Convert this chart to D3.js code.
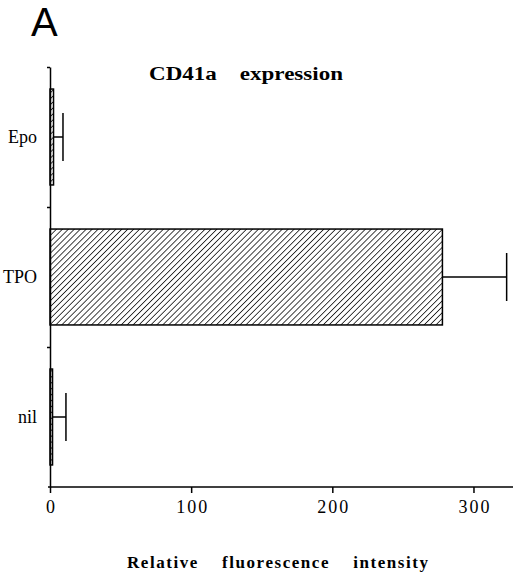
<!DOCTYPE html>
<html><head><meta charset="utf-8">
<script src="https://cdn.jsdelivr.net/npm/d3@7"></script>
<style>
html,body{margin:0;padding:0;background:#fff;}
svg{display:block;}
</style></head>
<body>
<svg id="chart" width="520" height="573"></svg>
<script>
// Data
const categories = ["Epo", "TPO", "nil"];
const values = [2.5, 278, 1.8];
const errors = [6.7, 45.5, 9.5];
const xTicks = [0, 100, 200, 300];
const panelLabel = "A";
const title = "CD41a    expression";
const xLabel = "Relative    fluorescence    intensity";

(function () {
const svg = d3.select("#chart");
const mLeft = 50, mRight = 513, mTop = 67, mBottom = 487;

const x = d3.scaleLinear().domain([0, 328]).range([mLeft, mRight]);
const y = d3.scaleBand().domain(categories).range([mTop, mBottom]).paddingInner(0.315).paddingOuter(0.1575);

// hatch pattern
const defs = svg.append("defs");
const pat = defs.append("pattern").attr("id", "hatch").attr("patternUnits", "userSpaceOnUse")
  .attr("width", 4.2).attr("height", 4.2).attr("patternTransform", "rotate(45)");
pat.append("rect").attr("width", 4.2).attr("height", 4.2).attr("fill", "#fff");
pat.append("line").attr("x1", 0).attr("y1", 0).attr("x2", 0).attr("y2", 4.2)
  .attr("stroke", "#222").attr("stroke-width", 1.7);

// panel label
svg.append("text").attr("x", 31).attr("y", 36).attr("font-family", "Liberation Sans, Arial, sans-serif")
  .attr("font-size", 40).attr("fill", "#000").text(panelLabel);

// title
svg.append("text").attr("x", 149).attr("y", 80).attr("font-family", "Liberation Serif, Times New Roman, serif")
  .attr("font-weight", "bold").attr("font-size", 18).style("white-space", "pre")
  .attr("textLength", 194).attr("lengthAdjust", "spacingAndGlyphs").text(title);

// bars
const data = categories.map((c, i) => ({c, v: values[i], e: errors[i]}));
svg.selectAll("rect.bar").data(data).enter().append("rect").attr("class", "bar")
  .attr("x", x(0)).attr("y", d => y(d.c)).attr("width", d => x(d.v) - x(0))
  .attr("height", y.bandwidth()).attr("fill", "url(#hatch)").attr("stroke", "#000").attr("stroke-width", 1.5);

// error bars
const capH = y.bandwidth() * 0.5;
const eg = svg.selectAll("g.err").data(data).enter().append("g").attr("class", "err");
eg.append("line").attr("x1", d => x(d.v)).attr("x2", d => x(d.v + d.e))
  .attr("y1", d => y(d.c) + y.bandwidth() / 2).attr("y2", d => y(d.c) + y.bandwidth() / 2)
  .attr("stroke", "#000").attr("stroke-width", 1.5);
eg.append("line").attr("x1", d => x(d.v + d.e)).attr("x2", d => x(d.v + d.e))
  .attr("y1", d => y(d.c) + y.bandwidth() / 2 - capH / 2).attr("y2", d => y(d.c) + y.bandwidth() / 2 + capH / 2)
  .attr("stroke", "#000").attr("stroke-width", 1.5);

// y axis: boundary ticks via index scale
const yIdx = d3.scaleLinear().domain([0, categories.length]).range([mTop, mBottom]);
const yAx = svg.append("g").attr("transform", `translate(${mLeft},0)`)
  .call(d3.axisLeft(yIdx).tickValues([0, 1, 2]).tickSize(3).tickSizeOuter(0).tickFormat(""));
yAx.select(".domain").attr("stroke-width", 1.5);
yAx.selectAll(".tick line").attr("stroke-width", 1.5);

// y labels
svg.selectAll("text.ylab").data(categories).enter().append("text").attr("class", "ylab")
  .attr("x", 37).attr("y", d => y(d) + y.bandwidth() / 2 + 6).attr("text-anchor", "end")
  .attr("font-family", "Liberation Serif, Times New Roman, serif").attr("font-size", 18).text(d => d);

// x axis
const xAx = svg.append("g").attr("transform", `translate(0,${mBottom})`)
  .call(d3.axisBottom(x).tickValues(xTicks).tickSize(6).tickSizeOuter(0).tickPadding(7));
xAx.select(".domain").attr("stroke-width", 1.5).attr("d", `M${mLeft - 2},0H${mRight}`);
xAx.selectAll(".tick line").attr("stroke-width", 1.5);
xAx.selectAll(".tick text").attr("font-family", "Liberation Serif, Times New Roman, serif")
  .attr("font-size", 18).attr("letter-spacing", 2).attr("fill", "#000").attr("dx", 1);

// x label
svg.append("text").attr("x", 127).attr("y", 568).attr("font-family", "Liberation Serif, Times New Roman, serif")
  .attr("font-weight", "bold").attr("font-size", 17).style("white-space", "pre")
  .attr("textLength", 301).attr("lengthAdjust", "spacing").text(xLabel);
})();
</script>
</body></html>
